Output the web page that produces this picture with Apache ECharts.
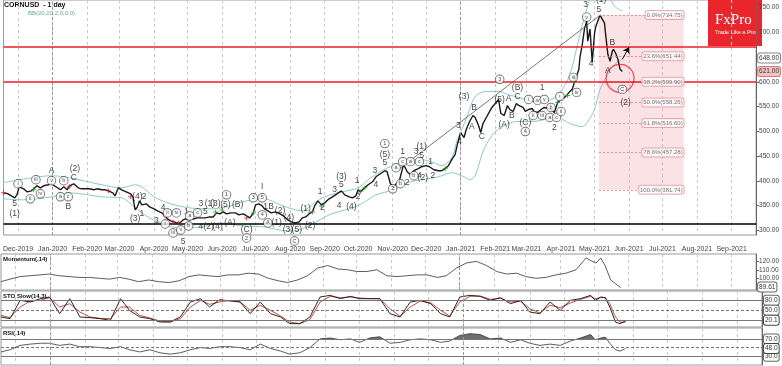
<!DOCTYPE html>
<html><head><meta charset="utf-8">
<script src="https://cdn.jsdelivr.net/npm/echarts@6/dist/echarts.min.js"></script>
<style>html,body{margin:0;padding:0;background:#fff}#c{width:782px;height:366px}</style>
</head><body><div id="c"></div>
<script>
// ---------- DATA ----------
const monthTicks = ['2019-12-01','2020-01-01','2020-02-01','2020-03-01','2020-04-01','2020-05-01','2020-06-01','2020-07-01','2020-08-01','2020-09-01','2020-10-01','2020-11-01','2020-12-01','2021-01-01','2021-02-01','2021-03-01','2021-04-01','2021-05-01','2021-06-01','2021-07-01','2021-08-01','2021-09-01'];
const monthLabels = ['Dec-2019','Jan-2020','Feb-2020','Mar-2020','Apr-2020','May-2020','Jun-2020','Jul-2020','Aug-2020','Sep-2020','Oct-2020','Nov-2020','Dec-2020','Jan-2021','Feb-2021','Mar-2021','Apr-2021','May-2021','Jun-2021','Jul-2021','Aug-2021','Sep-2021'];
const yearTicks = ['2020-01-01','2021-01-01'];
const priceTicks = [300,350,400,450,500,550,600,700,750];
const momentumTicks = [100,110,120];
const stoTicks = [];
const rsiTicks = [];

const closePrice = [['2019-11-18',375.8],['2019-11-22',373.8],['2019-11-25',369.7],['2019-11-28',365.6],['2019-11-30',371.7],['2019-12-02',388.0],['2019-12-06',383.9],['2019-12-09',377.8],['2019-12-13',379.8],['2019-12-15',383.9],['2019-12-18',390.0],['2019-12-21',385.9],['2019-12-24',390.0],['2019-12-28',392.0],['2019-12-31',394.0],
['2020-01-04',388.0],['2020-01-08',381.9],['2020-01-11',388.0],['2020-01-14',381.9],['2020-01-16',390.0],['2020-01-20',394.0],['2020-01-24',385.9],['2020-01-27',383.9],['2020-01-31',383.9],
['2020-02-03',383.9],['2020-02-07',381.9],['2020-02-10',383.9],['2020-02-14',381.9],['2020-02-17',381.9],['2020-02-20',379.8],['2020-02-24',375.8],['2020-02-26',369.7],['2020-02-29',385.9],
['2020-03-03',381.9],['2020-03-07',377.8],['2020-03-11',373.7],['2020-03-13',367.7],['2020-03-15',341.3],['2020-03-17',347.4],['2020-03-19',359.6],['2020-03-21',351.5],['2020-03-25',353.5],['2020-03-28',347.4],
['2020-04-01',343.3],['2020-04-04',339.3],['2020-04-08',335.2],['2020-04-11',329.1],['2020-04-13',323.0],['2020-04-16',319.0],['2020-04-19',317.0],['2020-04-21',314.9],['2020-04-24',314.9],['2020-04-27',321.0],['2020-04-29',323.0],
['2020-05-03',321.0],['2020-05-06',323.0],['2020-05-10',325.1],['2020-05-13',325.1],['2020-05-17',325.1],['2020-05-21',327.1],['2020-05-24',327.1],['2020-05-27',335.2],['2020-05-30',333.2],
['2020-06-02',337.2],['2020-06-05',333.2],['2020-06-09',335.2],['2020-06-13',335.2],['2020-06-16',331.2],['2020-06-20',333.2],['2020-06-23',329.1],['2020-06-26',325.1],['2020-06-29',335.2],
['2020-07-01',351.5],['2020-07-04',353.5],['2020-07-07',349.4],['2020-07-09',343.3],['2020-07-12',339.3],['2020-07-15',335.2],['2020-07-19',337.2],['2020-07-23',333.2],['2020-07-26',329.1],['2020-07-30',321.0],
['2020-08-02',317.0],['2020-08-06',314.9],['2020-08-09',317.0],['2020-08-12',325.1],['2020-08-15',327.1],['2020-08-18',333.2],['2020-08-21',337.2],['2020-08-23',349.4],['2020-08-26',359.6],['2020-08-29',351.5],
['2020-09-01',355.5],['2020-09-05',363.6],['2020-09-08',367.7],['2020-09-12',373.7],['2020-09-16',379.8],['2020-09-19',371.7],['2020-09-23',367.7],['2020-09-26',365.6],['2020-09-29',369.7],
['2020-10-01',381.9],['2020-10-03',377.8],['2020-10-07',385.9],['2020-10-10',392.0],['2020-10-14',398.1],['2020-10-17',408.2],['2020-10-21',414.3],['2020-10-25',420.4],['2020-10-27',418.4],['2020-10-30',394.0],
['2020-11-02',385.9],['2020-11-04',394.0],['2020-11-07',400.1],['2020-11-10',426.5],['2020-11-11',432.6],['2020-11-14',418.4],['2020-11-17',412.3],['2020-11-20',420.4],['2020-11-24',424.5],['2020-11-27',428.5],
['2020-12-01',430.6],['2020-12-04',428.5],['2020-12-08',422.4],['2020-12-12',420.4],['2020-12-15',420.4],['2020-12-18',424.5],['2020-12-21',430.6],['2020-12-24',442.7],['2020-12-27',452.9],['2020-12-29',473.1],
['2021-01-01',497.5],['2021-01-04',487.4],['2021-01-06',503.6],['2021-01-09',519.8],['2021-01-12',531.9],['2021-01-14',527.9],['2021-01-17',511.7],['2021-01-19',497.5],['2021-01-21',515.7],['2021-01-24',527.9],['2021-01-27',540.1],['2021-01-29',548.2],
['2021-02-01',556.3],['2021-02-04',564.4],['2021-02-06',536.0],['2021-02-09',531.9],['2021-02-12',552.2],['2021-02-14',544.1],['2021-02-17',540.1],['2021-02-20',556.3],['2021-02-22',552.2],['2021-02-26',548.2],['2021-02-28',540.1],
['2021-03-03',544.1],['2021-03-06',546.1],['2021-03-08',540.1],['2021-03-11',538.0],['2021-03-14',544.1],['2021-03-17',548.2],['2021-03-21',546.1],['2021-03-24',542.1],['2021-03-26',538.0],['2021-03-29',558.3],
['2021-04-01',564.4],['2021-04-03',566.4],['2021-04-06',572.5],['2021-04-09',580.6],['2021-04-11',584.7],['2021-04-14',605.0],['2021-04-17',625.2],['2021-04-18',649.6],['2021-04-20',673.9],['2021-04-22',706.4],['2021-04-24',722.6],['2021-04-25',682.0],['2021-04-27',706.4],['2021-04-29',639.4],
['2021-05-01',696.2],['2021-05-02',710.4],['2021-05-04',722.6],['2021-05-06',734.75],['2021-05-08',726.6],['2021-05-10',718.5],['2021-05-11',696.2],['2021-05-13',655.7],['2021-05-15',641.5],['2021-05-17',661.7],['2021-05-18',665.8],['2021-05-20',657.7],['2021-05-22',645.5],['2021-05-24',625.2],['2021-05-26',621.0]];

const bbUpper = [['2019-11-18',396.1],['2019-12-13',406.2],['2019-12-31',410.3],['2020-01-16',406.2],['2020-02-14',392.0],['2020-03-03',385.9],['2020-03-15',392.0],['2020-03-21',388.0],['2020-04-01',367.7],['2020-04-16',353.5],['2020-05-03',345.4],['2020-05-21',343.3],['2020-06-05',347.4],['2020-06-23',359.6],['2020-07-09',363.6],['2020-07-23',351.5],['2020-08-06',341.3],['2020-08-12',339.3],['2020-08-23',355.5],['2020-09-01',367.7],['2020-09-16',377.8],['2020-09-26',381.9],['2020-10-03',388.0],['2020-10-10',402.2],['2020-10-21',418.4],['2020-10-30',428.5],['2020-11-10',432.6],['2020-11-20',436.6],['2020-11-27',442.7],['2020-12-08',436.6],['2020-12-15',430.6],['2020-12-24',446.8],['2020-12-29',483.3],['2021-01-04',513.7],['2021-01-09',544.1],['2021-01-14',570.5],['2021-01-24',580.6],['2021-02-04',580.6],['2021-02-12',574.5],['2021-02-22',568.5],['2021-03-03',562.4],['2021-03-14',558.3],['2021-03-24',564.4],['2021-04-01',580.6],['2021-04-09',615.1],['2021-04-17',686.1],['2021-04-24',746.9],['2021-05-01',787.5],['2021-05-08',797.6],['2021-05-15',767.2],['2021-05-20',751.0],['2021-05-26',742.9]];

const bbLower = [['2019-11-18',363.6],['2019-12-06',361.6],['2019-12-31',367.7],['2020-01-16',375.8],['2020-02-14',367.7],['2020-03-03',365.6],['2020-03-15',345.4],['2020-03-28',325.1],['2020-04-11',310.9],['2020-04-24',304.8],['2020-05-13',306.8],['2020-05-30',314.9],['2020-06-20',308.9],['2020-07-09',306.8],['2020-07-30',298.7],['2020-08-09',300.8],['2020-08-23',314.9],['2020-09-05',331.2],['2020-09-19',341.3],['2020-09-26',345.4],['2020-10-07',357.5],['2020-10-17',371.7],['2020-11-02',381.9],['2020-11-14',396.1],['2020-11-27',402.2],['2020-12-12',408.2],['2020-12-24',416.4],['2021-01-04',408.2],['2021-01-09',402.2],['2021-01-14',410.3],['2021-01-21',458.9],['2021-01-29',491.4],['2021-02-06',507.6],['2021-02-20',519.8],['2021-03-06',519.8],['2021-03-17',523.8],['2021-03-29',531.9],['2021-04-03',523.8],['2021-04-11',513.7],['2021-04-20',509.6],['2021-04-25',519.8],['2021-05-01',544.1],['2021-05-06',584.7],['2021-05-13',615.1],['2021-05-18',633.4],['2021-05-26',645.5]];

const redLevels = [670, 600];
const blackLevel = 314;
const fibStart = '2021-05-05', fibEnd = '2021-07-20';
const fibPrices = [734.75, 651.44, 599.90, 558.25, 516.60, 457.28, 381.74];
const fibNames = ['0.0%(734.75)','23.6%(651.44)','38.2%(599.90)','50.0%(558.25)','61.8%(516.60)','78.6%(457.28)','100.0%(381.74)'];
const trendLine = [['2020-11-06',422.4],['2021-05-05',732.7]];
const arrowLine = [['2021-05-26',645.5],['2021-06-01',669.8]];
const circleAt = [['2021-05-24',607]];
const axisBoxes = [[648.00,'648.00'],[621.00,'621.00']];

const redMarks = [['2019-11-18',375.8],['2020-01-16',388.0],['2020-02-20',379.9],['2020-03-11',367.7],['2020-04-11',329.2],['2020-04-18',317.0],['2020-04-23',314.9],['2020-06-23',325.1]];
const greenMarks = [['2019-12-15',381.9],['2020-05-26',337.3],['2020-06-01',341.3],['2020-06-29',335.2],['2020-08-21',337.3],['2020-08-29',349.4],['2020-10-03',377.8],['2020-10-07',385.9],['2020-12-18',424.5],['2021-03-29',558.3],['2021-04-02',566.4],['2021-04-07',572.5],['2021-04-13',600.9]];

const plainLabels = [['2019-11-28',353.5,'5'],['2019-11-28',333.2,'(1)'],['2019-12-31',420.4,'A'],['2020-01-15',347.4,'B'],['2020-01-20',406.2,'C'],['2020-01-21',424.5,'(2)'],
['2020-03-17',367.7,'(4)'],['2020-03-23',367.7,'2'],['2020-03-15',323.1,'(3)'],['2020-03-21',333.2,'1'],['2020-04-03',319.0,'3'],['2020-04-09',345.4,'4'],['2020-04-27',276.4,'5'],['2020-04-30',337.3,'1'],
['2020-05-13',353.5,'3'],['2020-05-21',353.5,'(1)'],['2020-05-17',337.3,'5'],['2020-05-13',306.8,'4'],['2020-05-20',306.8,'(2)'],['2020-05-28',306.8,'(4)'],['2020-05-26',353.5,'(3)'],
['2020-06-04',351.5,'(5)'],['2020-06-15',351.5,'(B)'],['2020-06-08',315.0,'(A)'],['2020-07-07',388.0,'I'],['2020-07-10',347.4,'1'],['2020-06-23',300.8,'(C)'],['2020-07-15',347.4,'B'],['2020-07-23',339.3,'(2)'],['2020-07-20',315.0,'(1)'],['2020-07-31',325.1,'(4)'],['2020-07-30',300.8,'(3)'],['2020-08-07',300.8,'(5)'],
['2020-08-15',343.3,'(1)'],['2020-08-19',308.9,'(2)'],['2020-08-28',377.8,'1'],['2020-08-30',345.4,'2'],['2020-09-10',381.9,'3'],['2020-09-14',349.4,'4'],['2020-09-16',392.0,'5'],['2020-09-16',408.2,'(3)'],['2020-09-30',400.1,'1'],['2020-10-01',367.7,'2'],['2020-09-25',347.4,'(4)'],['2020-10-16',420.4,'3'],['2020-10-17',392.0,'4'],['2020-10-25',436.6,'5'],['2020-10-25',452.9,'(5)'],
['2020-11-10',458.9,'1'],['2020-11-14',396.1,'2'],['2020-11-22',458.9,'3'],['2020-11-27',469.1,'(1)'],['2020-11-27',450.8,'5'],['2020-11-25',410.3,'4'],['2020-11-28',406.2,'(2)'],['2020-12-05',438.7,'1'],['2020-12-07',410.3,'2'],
['2020-12-30',511.7,'3'],['2020-12-31',479.2,'4'],['2021-01-04',570.5,'(3)'],['2021-01-13',548.2,'B'],['2021-01-11',509.6,'A'],['2021-01-20',489.4,'C'],['2021-02-05',564.4,'(5)'],['2021-02-13',566.4,'A'],['2021-02-21',588.7,'(B)'],['2021-02-21',570.5,'C'],['2021-02-16',532.0,'B'],['2021-02-09',513.7,'(A)'],['2021-02-28',517.8,'(C)'],
['2021-03-15',588.7,'1'],['2021-03-26',507.6,'2'],['2021-04-23',755.0,'3'],['2021-04-28',637.4,'4'],['2021-05-05',744.9,'5'],['2021-05-07',765.2,'(1)'],['2021-05-13',623.2,'A'],['2021-05-17',680.0,'B'],['2021-05-29',558.3,'(2)']];

const circledLabels = [['2019-12-01',394.0,'i'],['2019-12-12',363.6,'ii'],['2019-12-17',402.2,'iii'],['2019-12-21',373.8,'iv'],['2019-12-31',400.1,'v'],['2020-01-11',400.1,'b'],['2020-01-08',367.7,'a'],['2020-01-15',367.7,'c'],
['2020-04-13',335.2,'ii'],['2020-04-21',335.2,'iv'],['2020-04-11',312.9,'i'],['2020-04-18',294.7,'iii'],['2020-04-25',300.8,'v'],['2020-05-03',329.2,'a'],['2020-05-10',335.2,'c'],['2020-05-02',308.9,'b'],
['2020-06-05',371.7,'1'],['2020-06-29',365.7,'3'],['2020-07-07',365.7,'5'],['2020-07-07',331.2,'4'],['2020-06-23',284.5,'2'],['2020-07-12',315.0,'A'],['2020-08-05',278.5,'C'],
['2020-10-25',475.2,'1'],['2020-11-01',383.9,'2'],['2020-11-04',426.5,'a'],['2020-11-10',438.7,'c'],['2020-11-08',394.0,'b'],['2020-11-17',438.7,'a'],['2020-11-25',438.7,'c'],['2020-11-20',410.3,'b'],
['2021-02-05',605.0,'3'],['2021-02-28',499.5,'4'],['2021-03-03',564.4,'i'],['2021-03-11',562.4,'iv'],['2021-03-17',564.4,'v'],['2021-03-07',532.0,'ii'],['2021-03-15',532.0,'iii'],['2021-03-23',548.2,'b'],['2021-03-22',527.9,'a'],['2021-03-28',527.9,'c'],['2021-03-31',570.5,'i'],['2021-04-01',540.1,'ii'],['2021-04-12',609.0,'iii'],['2021-04-15',578.6,'iv'],['2021-04-24',730.7,'v'],['2021-05-26',584.7,'C']];

const indDates = ['2019-11-18','2019-11-26','2019-12-05','2019-12-14','2019-12-23','2019-12-31','2020-01-09','2020-01-18','2020-01-27','2020-02-05','2020-02-14','2020-02-23','2020-03-03','2020-03-11','2020-03-20','2020-03-29','2020-04-07','2020-04-16','2020-04-25','2020-05-04','2020-05-13','2020-05-21','2020-05-30','2020-06-08','2020-06-17','2020-06-26','2020-07-05','2020-07-14','2020-07-23','2020-07-31','2020-08-09','2020-08-18','2020-08-27','2020-09-05','2020-09-14','2020-09-23','2020-10-01','2020-10-10','2020-10-19','2020-10-28','2020-11-06','2020-11-15','2020-11-24','2020-12-03','2020-12-12','2020-12-20','2020-12-29','2021-01-07','2021-01-16','2021-01-25','2021-02-03','2021-02-12','2021-02-21','2021-03-01','2021-03-10','2021-03-19','2021-03-28','2021-04-06','2021-04-15','2021-04-24','2021-04-28','2021-05-03','2021-05-07','2021-05-11','2021-05-16','2021-05-20','2021-05-25'];
const momentum = [96,99,102,103,104,105,103,102,101,101,100,99,101,99,96,98,96,95,97,102,104,103,102,104,104,106,105,100,97,95,98,103,112,115,111,110,108,108,110,103,102,103,104,104,101,103,112,118,120,115,108,105,106,102,100,101,104,106,110,124,121,118,124,115,98,94,89];
const stoK = [30,25,80,75,85,90,40,85,30,28,25,20,85,50,30,25,15,15,30,75,85,60,82,78,75,40,75,40,30,10,10,30,90,95,85,92,85,85,85,40,30,75,80,70,40,30,90,95,92,80,88,70,80,45,40,75,50,80,85,95,80,90,88,60,15,10,18];
const stoD = [35,28,60,78,80,88,60,70,45,30,26,25,60,60,35,27,18,15,25,60,80,68,75,80,76,50,65,50,33,15,10,22,75,92,88,90,87,85,85,55,32,60,78,73,50,33,75,92,93,83,86,75,77,55,42,65,58,72,83,92,85,88,88,70,30,14,15];
const rsi = [40,45,55,58,60,60,55,58,52,52,50,48,52,45,40,45,38,35,38,45,50,48,52,52,50,45,58,48,42,35,38,50,70,72,68,70,62,72,75,60,62,68,70,68,62,65,78,82,80,70,72,62,68,60,55,58,55,65,72,80,68,72,74,60,45,42,48];
const momentumBox = [89.61,'89.61'];
const stoBox = [20.1,'20.1'];
const rsiBox = [48.0,'48.0'];
const stoLevels = [80, 50, 20];
const stoLevelLabels = ['80.0','50.0',''];
const rsiLevels = [70, 50, 30];
const rsiLevelLabels = ['70.0','','30.0'];

// ---------- HELPERS ----------
const T = s => { const p = s.split('-').map(Number); return new Date(p[0], p[1]-1, p[2]).getTime(); };
const pts = a => a.map(d => [T(d[0]), d[1]]);
const zip = v => indDates.map((d, i) => [T(d), v[i]]);
const FONT = '"Liberation Sans", Arial, sans-serif';
const monthTs = monthTicks.map(T);
const labelMap = {}; monthTs.forEach((t, i) => labelMap[t] = monthLabels[i]);
const XMIN = T('2019-11-18'), XMAX = T('2021-09-23');

const grids = [
  {left: 1, right: 20, top: 0, height: 235},
  {left: 1, right: 20, top: 254, height: 36},
  {left: 1, right: 20, top: 291, height: 36},
  {left: 1, right: 20, top: 328, height: 37},
  {left: 1, right: 20, top: 328, height: 37 * 25 / 85}
];
const yRanges = [[290.6, 765.2], [86.2, 128.6], [0, 108], [10, 95], [70, 95]];
const yTicks = [priceTicks, momentumTicks, stoTicks, rsiTicks, []];
const yFmt = [v => v.toFixed(2), v => v.toFixed(2), v => v.toFixed(1), v => v.toFixed(1), v => ''];

const boxLabel = (text, color, bg, border) => ({show: text !== '', position: 'end', distance: 2, formatter: text, fontSize: 6.5, fontFamily: FONT, color: color, backgroundColor: bg, borderColor: border, borderWidth: 1, borderRadius: 2, padding: [1, 1]});
const hidden = {color: 'rgba(0,0,0,0)', width: 0};
const yearLine = y => ({xAxis: T(y), label: {show: false}, lineStyle: {color: '#999', type: [3, 2], width: 1}});

const option = {
  animation: false,
  grid: grids.map((g, i) => Object.assign({show: i < 4, borderColor: '#999', borderWidth: 1, backgroundColor: 'transparent'}, g)),
  xAxis: grids.map((g, i) => ({
    type: 'value', gridIndex: i, min: XMIN, max: XMAX, scale: true,
    axisLine: {show: false},
    axisTick: {show: false, customValues: monthTs},
    axisLabel: {show: i === 0, customValues: monthTs, formatter: v => labelMap[v] || '', fontSize: 7, color: '#444', margin: 11, fontFamily: FONT},
    splitLine: {show: i < 4, lineStyle: {color: '#c9c9c9', type: [3, 3], width: 1}}
  })),
  yAxis: grids.map((g, i) => ({
    type: 'value', gridIndex: i, position: 'right', min: yRanges[i][0], max: yRanges[i][1],
    show: i < 4,
    axisLine: {show: true, lineStyle: {color: '#666'}},
    axisTick: {show: true, length: 3, inside: false, customValues: yTicks[i], lineStyle: {color: '#666'}},
    axisLabel: {customValues: yTicks[i], formatter: yFmt[i], fontSize: 6.5, color: '#444', margin: 3, fontFamily: FONT},
    splitLine: {show: false}
  })),
  graphic: [
    {type: 'text', left: 4, top: 2, style: {text: 'CORNUSD  - 1 day', font: 'bold 7px ' + FONT, fill: '#111'}},
    {type: 'text', left: 28, top: 10, style: {text: 'BB(20,20,2.0,0.0)', font: '6px ' + FONT, fill: '#6aa8a8'}},
    {type: 'text', left: 3, top: 256, style: {text: 'Momentum(,14)', font: 'bold 6px ' + FONT, fill: '#111'}},
    {type: 'text', left: 3, top: 293, style: {text: 'STO Slow(14,3)', font: 'bold 6px ' + FONT, fill: '#111'}},
    {type: 'text', left: 3, top: 330, style: {text: 'RSI(,14)', font: 'bold 6px ' + FONT, fill: '#111'}},
    {type: 'group', left: 708, top: 0, children: [
      {type: 'rect', shape: {x: 0, y: 0, width: 54, height: 46}, style: {fill: '#e8262c'}},
      {type: 'text', x: 7, y: 13, style: {text: 'FxPro', font: '15px "Liberation Serif", "DejaVu Serif", serif', fill: '#fff'}},
      {type: 'text', x: 7, y: 29, style: {text: 'Trade Like a Pro', font: '5.5px ' + FONT, fill: '#fff'}}
    ]}
  ],
  series: [
    {type: 'line', xAxisIndex: 0, yAxisIndex: 0, data: [], z: 1, silent: true,
     markArea: {silent: true, itemStyle: {color: 'rgba(238,150,160,0.28)'}, data: [[{coord: [T(fibStart), fibPrices[0]]}, {coord: [T(fibEnd), fibPrices[6]]}]]},
     markLine: {silent: true, symbol: 'none', label: {show: false}, lineStyle: {color: '#e07a82', type: [2, 2], width: 0.8},
       data: fibPrices.map(p => [{coord: [T(fibStart), p]}, {coord: [T(fibEnd), p]}])}},
    {type: 'line', xAxisIndex: 0, yAxisIndex: 0, data: pts(bbUpper), symbol: 'none', smooth: 0.3, lineStyle: {color: '#8cc8c8', width: 1}, z: 2, silent: true,
     markLine: {silent: true, symbol: 'none', data: yearTicks.map(yearLine)}},
    {type: 'line', xAxisIndex: 0, yAxisIndex: 0, data: pts(bbLower), symbol: 'none', smooth: 0.3, lineStyle: {color: '#8cc8c8', width: 1}, z: 2, silent: true},
    {type: 'line', xAxisIndex: 0, yAxisIndex: 0, data: pts(closePrice), symbol: 'none', lineStyle: {color: '#1a1a1a', width: 1.4}, z: 3, silent: true},
    {type: 'line', xAxisIndex: 0, yAxisIndex: 0, data: [], z: 4, silent: true,
     markLine: {silent: true, symbol: 'none',
       data: redLevels.map(v => ({yAxis: v, label: {show: false}, lineStyle: {color: '#ee1c25', width: 1.6, type: 'solid'}}))
         .concat([{yAxis: blackLevel, label: {show: false}, lineStyle: {color: '#000', width: 1.6, type: 'solid'}}])
         .concat([{yAxis: axisBoxes[0][0], lineStyle: hidden, label: boxLabel(axisBoxes[0][1], '#333', '#fff', '#888')},
                  {yAxis: axisBoxes[1][0], lineStyle: hidden, label: boxLabel(axisBoxes[1][1], '#333', '#f3c3c6', '#d77')}])}},
    {type: 'scatter', xAxisIndex: 0, yAxisIndex: 0, symbolSize: 0, z: 6, silent: true, clip: false,
     data: fibPrices.map(p => [T(fibEnd), p]),
     label: {show: true, position: 'left', distance: 0, formatter: p => fibNames[p.dataIndex], fontSize: 6, fontFamily: FONT, color: '#555', backgroundColor: '#fff', borderColor: '#e39aa0', borderWidth: 1, borderRadius: 2, padding: [1, 1]}},
    {type: 'line', xAxisIndex: 0, yAxisIndex: 0, data: pts(trendLine), symbol: 'none', lineStyle: {color: '#555', width: 0.8}, z: 3, silent: true},
    {type: 'line', xAxisIndex: 0, yAxisIndex: 0, data: [], z: 6, silent: true,
     markLine: {silent: true, symbol: ['none', 'arrow'], symbolSize: 6, label: {show: false}, lineStyle: {color: '#111', width: 1, type: 'solid'},
       data: [[{coord: [T(arrowLine[0][0]), arrowLine[0][1]]}, {coord: [T(arrowLine[1][0]), arrowLine[1][1]]}]]}},
    {type: 'scatter', xAxisIndex: 0, yAxisIndex: 0, data: pts(circleAt), symbol: 'circle', symbolSize: 28, itemStyle: {color: 'rgba(0,0,0,0)', borderColor: '#ee1c25', borderWidth: 1.2}, z: 6, silent: true},
    {type: 'scatter', xAxisIndex: 0, yAxisIndex: 0, data: pts(redMarks), symbol: 'path://M4,0h2v4h4v2h-4v4h-2v-4h-4v-2h4z', symbolSize: 5, itemStyle: {color: '#d42020'}, z: 5, silent: true},
    {type: 'scatter', xAxisIndex: 0, yAxisIndex: 0, data: pts(greenMarks), symbol: 'path://M4,0h2v4h4v2h-4v4h-2v-4h-4v-2h4z', symbolSize: 5, itemStyle: {color: '#20a020'}, z: 5, silent: true},
    {type: 'scatter', xAxisIndex: 0, yAxisIndex: 0, symbolSize: 0, clip: false, z: 7, silent: true,
     data: plainLabels.map(d => [T(d[0]), d[1], d[2]]),
     label: {show: true, position: 'inside', formatter: p => p.value[2], fontSize: 8.5, fontFamily: FONT, color: '#111'}},
    {type: 'scatter', xAxisIndex: 0, yAxisIndex: 0, symbolSize: 0, clip: false, z: 7, silent: true,
     data: circledLabels.map(d => [T(d[0]), d[1], d[2]]),
     label: {show: true, position: 'inside', formatter: p => p.value[2], fontSize: 5.5, fontFamily: FONT, color: '#111', backgroundColor: '#fff', borderColor: '#333', borderWidth: 0.7, borderRadius: 5, width: 8, height: 8, lineHeight: 8, align: 'center', verticalAlign: 'middle', padding: 0}},
    {type: 'line', xAxisIndex: 1, yAxisIndex: 1, data: zip(momentum), symbol: 'none', lineStyle: {color: '#333', width: 0.8}, silent: true,
     markLine: {silent: true, symbol: 'none', data: [{yAxis: momentumBox[0], lineStyle: hidden, label: boxLabel(momentumBox[1], '#333', '#fff', '#666')}].concat(yearTicks.map(yearLine))}},
    {type: 'line', xAxisIndex: 2, yAxisIndex: 2, data: zip(stoD), symbol: 'none', lineStyle: {color: '#c0392b', width: 0.9}, silent: true,
     markLine: {silent: true, symbol: 'none', label: {show: false},
       data: stoLevels.map((v, i) => ({yAxis: v, lineStyle: {color: '#777', width: 1, type: i === 1 ? [3, 2] : 'solid'}, label: boxLabel(stoLevelLabels[i], '#333', '#fff', '#666')}))
         .concat([{yAxis: stoBox[0], lineStyle: hidden, label: boxLabel(stoBox[1], '#333', '#fff', '#444')}])
         .concat(yearTicks.map(yearLine))}},
    {type: 'line', xAxisIndex: 2, yAxisIndex: 2, data: zip(stoK), symbol: 'none', lineStyle: {color: '#111', width: 0.9}, silent: true},
    {type: 'line', xAxisIndex: 4, yAxisIndex: 4, data: zip(rsi), symbol: 'none', clip: true, lineStyle: {width: 0}, areaStyle: {color: '#6e6e6e', opacity: 1, origin: 'start'}, silent: true},
    {type: 'line', xAxisIndex: 3, yAxisIndex: 3, data: zip(rsi), symbol: 'none', lineStyle: {color: '#333', width: 0.8}, silent: true,
     markLine: {silent: true, symbol: 'none', label: {show: false},
       data: rsiLevels.map((v, i) => ({yAxis: v, lineStyle: {color: '#777', width: 1, type: i === 1 ? [3, 2] : 'solid'}, label: boxLabel(rsiLevelLabels[i], '#333', '#fff', '#666')}))
         .concat([{yAxis: rsiBox[0], lineStyle: hidden, label: boxLabel(rsiBox[1], '#333', '#fff', '#444')}])
         .concat(yearTicks.map(yearLine))}}
  ]
};
const chart = echarts.init(document.getElementById('c'), null, {renderer: 'canvas'});
chart.setOption(option);
</script></body></html>
